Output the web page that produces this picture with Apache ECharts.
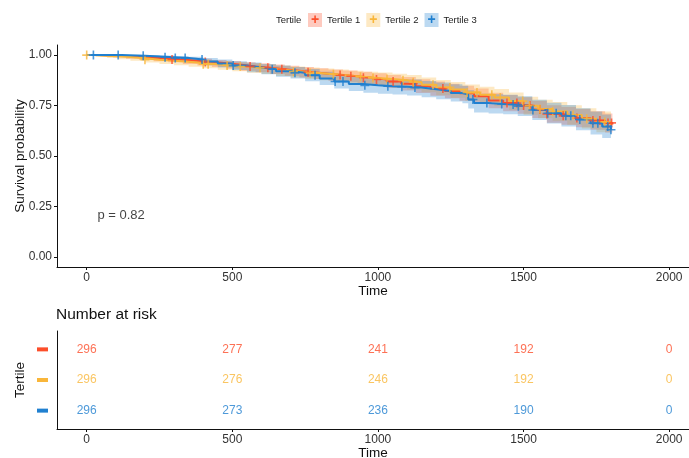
<!DOCTYPE html>
<html><head><meta charset="utf-8">
<script src="https://cdn.jsdelivr.net/npm/echarts@6/dist/echarts.min.js"></script>
<style>html,body{margin:0;padding:0;background:#fff}#c{width:689px;height:458px}</style>
</head><body><div id="c"></div>
<script>
// ---------- data ----------
const seriesNames = ['Tertile 1', 'Tertile 2', 'Tertile 3'];
const colors = ['#FC4E2A', '#F9B63A', '#2080D0'];

const t1 = [0, 45, 90, 135, 180, 230, 280, 330, 380, 430, 480, 530, 580, 630, 680, 730, 780, 830, 880, 930, 980, 1030, 1080, 1130, 1180, 1230, 1280, 1330, 1380, 1430, 1480, 1530, 1580, 1630, 1680, 1730, 1780, 1805];
const s1 = [1.000, 0.998, 0.995, 0.991, 0.987, 0.983, 0.978, 0.972, 0.966, 0.959, 0.952, 0.944, 0.937, 0.930, 0.923, 0.915, 0.908, 0.901, 0.895, 0.888, 0.879, 0.869, 0.858, 0.846, 0.834, 0.822, 0.811, 0.796, 0.775, 0.762, 0.750, 0.730, 0.708, 0.699, 0.688, 0.676, 0.664, 0.656];
const lo1 = [1.000, 0.994, 0.988, 0.982, 0.976, 0.970, 0.964, 0.956, 0.949, 0.941, 0.932, 0.923, 0.915, 0.906, 0.898, 0.889, 0.881, 0.873, 0.866, 0.858, 0.848, 0.837, 0.825, 0.812, 0.799, 0.786, 0.774, 0.758, 0.736, 0.722, 0.709, 0.688, 0.665, 0.655, 0.643, 0.630, 0.617, 0.608];
const hi1 = [1.000, 1.000, 1.000, 0.999, 0.997, 0.995, 0.991, 0.987, 0.982, 0.976, 0.971, 0.965, 0.959, 0.953, 0.947, 0.941, 0.935, 0.929, 0.924, 0.918, 0.910, 0.901, 0.891, 0.880, 0.869, 0.858, 0.848, 0.834, 0.814, 0.802, 0.791, 0.772, 0.751, 0.743, 0.733, 0.722, 0.711, 0.704];
const cens1 = [293, 407, 561, 622, 670, 760, 870, 907, 950, 995, 1052, 1121, 1223, 1443, 1477, 1500, 1522, 1556, 1580, 1636, 1683, 1738, 1762, 1790, 1802];

const t2 = [0, 30, 70, 110, 150, 200, 250, 300, 350, 400, 450, 500, 550, 600, 650, 700, 750, 800, 850, 900, 950, 1000, 1050, 1100, 1150, 1200, 1250, 1300, 1350, 1400, 1450, 1500, 1550, 1600, 1650, 1700, 1750, 1800];
const s2 = [1.000, 0.997, 0.994, 0.990, 0.984, 0.977, 0.972, 0.967, 0.961, 0.955, 0.949, 0.943, 0.937, 0.931, 0.924, 0.917, 0.911, 0.905, 0.899, 0.893, 0.887, 0.882, 0.875, 0.866, 0.853, 0.840, 0.829, 0.815, 0.803, 0.790, 0.772, 0.749, 0.733, 0.720, 0.703, 0.685, 0.668, 0.648];
const lo2 = [1.000, 0.991, 0.986, 0.980, 0.972, 0.963, 0.956, 0.950, 0.942, 0.935, 0.927, 0.920, 0.913, 0.906, 0.897, 0.889, 0.882, 0.875, 0.868, 0.861, 0.854, 0.848, 0.840, 0.830, 0.816, 0.801, 0.789, 0.774, 0.761, 0.747, 0.728, 0.704, 0.687, 0.673, 0.655, 0.636, 0.618, 0.597];
const hi2 = [1.000, 1.000, 1.000, 0.998, 0.994, 0.989, 0.986, 0.982, 0.978, 0.973, 0.969, 0.964, 0.959, 0.954, 0.948, 0.943, 0.938, 0.933, 0.928, 0.923, 0.918, 0.914, 0.908, 0.901, 0.889, 0.877, 0.867, 0.854, 0.843, 0.832, 0.815, 0.794, 0.779, 0.767, 0.752, 0.736, 0.720, 0.702];
const cens2 = [0, 200, 400, 417, 482, 527, 595, 710, 767, 847, 940, 983, 1031, 1086, 1121, 1189, 1247, 1306, 1340, 1391, 1420, 1497, 1520, 1556, 1600, 1670, 1717, 1779];

const t3 = [0, 120, 200, 250, 300, 350, 400, 450, 500, 550, 600, 650, 700, 750, 800, 850, 900, 950, 1000, 1050, 1100, 1150, 1200, 1250, 1290, 1310, 1330, 1380, 1430, 1480, 1530, 1580, 1630, 1680, 1730, 1770, 1800];
const s3 = [1.000, 0.997, 0.993, 0.989, 0.985, 0.978, 0.968, 0.958, 0.948, 0.939, 0.930, 0.920, 0.912, 0.900, 0.884, 0.869, 0.857, 0.850, 0.846, 0.843, 0.839, 0.831, 0.822, 0.812, 0.804, 0.780, 0.762, 0.758, 0.755, 0.747, 0.728, 0.712, 0.699, 0.681, 0.662, 0.646, 0.630];
const lo3 = [1.000, 0.990, 0.983, 0.977, 0.971, 0.962, 0.950, 0.938, 0.926, 0.915, 0.905, 0.893, 0.884, 0.870, 0.852, 0.835, 0.822, 0.814, 0.809, 0.805, 0.800, 0.791, 0.781, 0.770, 0.761, 0.735, 0.716, 0.711, 0.707, 0.698, 0.678, 0.661, 0.646, 0.627, 0.606, 0.589, 0.572];
const hi3 = [1.000, 1.000, 1.000, 0.998, 0.996, 0.992, 0.985, 0.978, 0.970, 0.963, 0.956, 0.948, 0.941, 0.931, 0.917, 0.904, 0.893, 0.887, 0.884, 0.882, 0.879, 0.872, 0.864, 0.855, 0.848, 0.826, 0.809, 0.806, 0.803, 0.796, 0.779, 0.764, 0.753, 0.737, 0.720, 0.706, 0.690];
const cens3 = [23, 108, 194, 269, 304, 338, 396, 503, 637, 715, 784, 853, 880, 955, 1034, 1082, 1127, 1326, 1374, 1425, 1464, 1482, 1532, 1583, 1612, 1645, 1662, 1693, 1738, 1755, 1789, 1800];

const xTicks = [0, 500, 1000, 1500, 2000];
const yTicks = [0, 0.25, 0.5, 0.75, 1];
const riskTimes = [0, 500, 1000, 1500, 2000];
const risk1 = [296, 277, 241, 192, 0];
const risk2 = [296, 276, 246, 192, 0];
const risk3 = [296, 273, 236, 190, 0];
const pValueText = 'p = 0.82';
const pValuePos = [118, 0.205];

// ---------- build ----------
const groups = [
  {t: t1, s: s1, lo: lo1, hi: hi1, c: cens1, risk: risk1, row: 3},
  {t: t2, s: s2, lo: lo2, hi: hi2, c: cens2, risk: risk2, row: 2},
  {t: t3, s: s3, lo: lo3, hi: hi3, c: cens3, risk: risk3, row: 1}
];
function stepValue(g, x) {
  let v = g.s[0];
  for (let i = 0; i < g.t.length; i++) { if (g.t[i] <= x) v = g.s[i]; }
  return v;
}
const plusPath = 'path://M4.1,0H5.9V4.1H10V5.9H5.9V10H4.1V5.9H0V4.1H4.1Z';
const series = [];
groups.forEach((g, i) => {
  const bandData = g.t.map((x, k) => [x, g.lo[k], g.hi[k]]);
  series.push({
    name: seriesNames[i] + ' band', type: 'custom', silent: true, z: 1, clip: true,
    data: bandData,
    encode: {x: 0, y: [1, 2]},
    renderItem: function (params, api) {
      if (params.dataIndex !== 0) return null;
      const n = bandData.length;
      const upper = [], lower = [];
      for (let k = 0; k < n; k++) {
        const x0 = bandData[k][0];
        const x1 = k < n - 1 ? bandData[k + 1][0] : bandData[k][0];
        upper.push(api.coord([x0, bandData[k][2]]), api.coord([x1, bandData[k][2]]));
        lower.push(api.coord([x0, bandData[k][1]]), api.coord([x1, bandData[k][1]]));
      }
      const pts = upper.concat(lower.reverse());
      return {type: 'polygon', shape: {points: pts}, style: {fill: colors[i], opacity: 0.3}};
    }
  });
});
groups.forEach((g, i) => {
  series.push({
    name: seriesNames[i], type: 'line', step: 'end', symbol: 'none',
    lineStyle: {color: colors[i], width: 2}, itemStyle: {color: colors[i]},
    data: g.t.map((x, k) => [x, g.s[k]]), z: 3
  });
});
groups.forEach((g, i) => {
  series.push({
    name: seriesNames[i] + ' cens', type: 'scatter', symbol: plusPath, symbolSize: 9,
    itemStyle: {color: colors[i]}, silent: true,
    data: g.c.map(x => [x, stepValue(g, x)]), z: 4
  });
});
series.push({
  type: 'scatter', symbolSize: 0, silent: true, data: [pValuePos],
  label: {show: true, position: 'inside', formatter: pValueText, fontSize: 13, color: '#111', fontFamily: 'Liberation Sans'}
});
groups.forEach((g, i) => {
  series.push({
    type: 'scatter', xAxisIndex: 1, yAxisIndex: 1, symbolSize: 0, silent: true,
    data: riskTimes.map((x, k) => [x, g.row, g.risk[k]]),
    label: {show: true, position: 'inside', formatter: p => String(p.value[2]), fontSize: 12, color: colors[i], fontFamily: 'Liberation Sans'}
  });
});

const axisLineStyle = {onZero: false, lineStyle: {color: '#111', width: 1}};
const richKeys = ['r', 'o', 'b'];
const legendRich = {t: {fontSize: 9.5, color: '#222', padding: [0, 0, 0, 5], fontFamily: 'Liberation Sans'}};
richKeys.forEach((k, i) => {
  legendRich[k] = {width: 14, height: 14, align: 'center', backgroundColor: colors[i] + '4D', color: colors[i], fontSize: 14, fontWeight: 'bold', lineHeight: 14};
});
const rowRich = {};
richKeys.forEach((k, i) => { rowRich[k] = {width: 11, height: 4, backgroundColor: colors[i]}; });

function xAxisDef(idx) {
  return {
    type: 'value', gridIndex: idx, min: -102, max: 2068,
    name: 'Time', nameLocation: 'middle', nameGap: 17, nameMoveOverlap: false, nameTextStyle: {fontSize: 13.5, color: '#111'},
    axisLine: axisLineStyle, splitLine: {show: false},
    axisTick: {lineStyle: {color: '#111'}, length: 3, customValues: xTicks},
    axisLabel: {customValues: xTicks, fontSize: 12, color: '#333', margin: 5, formatter: v => String(v)}
  };
}

const option = {
  animation: false,
  textStyle: {fontFamily: 'Liberation Sans'},
  title: [
    {text: 'Tertile', left: 276, top: 15, padding: 0, textStyle: {fontSize: 9.5, fontWeight: 'normal', color: '#222'}},
    {text: 'Number at risk', left: 56, top: 307, padding: 0, textStyle: {fontSize: 15.5, fontWeight: 'normal', color: '#111'}}
  ],
  legend: {
    data: seriesNames, left: 303, top: 13, icon: 'none', itemWidth: 0, itemHeight: 14, itemGap: 1, padding: 0,
    selectedMode: false,
    formatter: name => '{' + richKeys[seriesNames.indexOf(name)] + '|+}{t|' + name + '}',
    textStyle: {rich: legendRich}
  },
  grid: [
    {left: 57, right: 0, top: 45, bottom: 191, containLabel: false, outerBoundsMode: 'none'},
    {left: 57, right: 0, top: 331, bottom: 29, containLabel: false, outerBoundsMode: 'none'}
  ],
  xAxis: [xAxisDef(0), xAxisDef(1)],
  yAxis: [
    {
      type: 'value', gridIndex: 0, min: -0.05, max: 1.05,
      name: 'Survival probability', nameLocation: 'middle', nameGap: 30, nameMoveOverlap: false, nameTextStyle: {fontSize: 13.5, color: '#111'},
      axisLine: axisLineStyle, splitLine: {show: false},
      axisTick: {lineStyle: {color: '#111'}, length: 3, customValues: yTicks},
      axisLabel: {customValues: yTicks, fontSize: 12, color: '#333', margin: 5, formatter: v => v.toFixed(2)}
    },
    {
      type: 'value', gridIndex: 1, min: 0.4, max: 3.6,
      name: 'Tertile', nameLocation: 'middle', nameGap: 30, nameMoveOverlap: false, nameTextStyle: {fontSize: 13.5, color: '#111'},
      axisLine: axisLineStyle, splitLine: {show: false},
      axisTick: {show: false},
      axisLabel: {customValues: [1, 2, 3], margin: 9, formatter: v => '{' + richKeys[3 - v] + '|}', rich: rowRich}
    }
  ],
  series: series
};
const chart = echarts.init(document.getElementById('c'), null, {renderer: 'canvas'});
chart.setOption(option);
</script></body></html>
